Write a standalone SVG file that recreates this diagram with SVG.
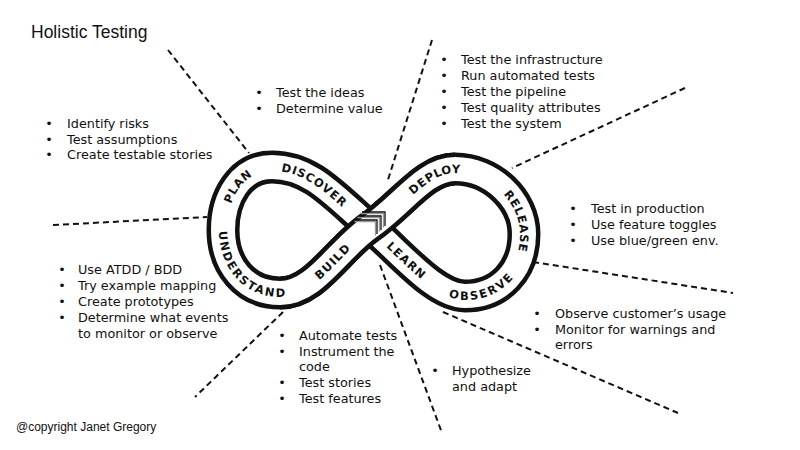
<svg xmlns="http://www.w3.org/2000/svg" width="800" height="450" viewBox="0 0 800 450">
<style>
.t{font-family:"DejaVu Sans",sans-serif;font-size:12.8px;fill:#111}
.b{font-family:"DejaVu Sans",sans-serif;font-size:12.8px;fill:#111;text-anchor:middle}
.title{font-family:"Liberation Sans",Arial,sans-serif;font-size:17.5px;fill:#111}
.copy{font-family:"Liberation Sans",Arial,sans-serif;font-size:12px;fill:#111}
.lbl{font-family:"DejaVu Sans",sans-serif;font-size:11.5px;font-weight:bold;letter-spacing:1.2px;fill:#111;dominant-baseline:central;text-anchor:middle}
.dash{stroke:#111;stroke-width:2;stroke-dasharray:6 4;fill:none}
.bandK{fill:none;stroke:#111;stroke-width:33}
.bandW{fill:none;stroke:#fff;stroke-width:24}
.chev{fill:none;stroke:#111;stroke-width:1.3}
.chevG{fill:none;stroke:#999;stroke-width:1.3}
</style>
<defs>
<path id="loopAll" d="M370,227 C403,204 425,169 455,169 C492,169 524,200 524,234 C524,270 500,296 465,296 C435,296 400,252 370,227 C332.5,194 310,167 272,167 C240,167 223,198 223,230 C223,265 245,293 280,293 C315,293 337,250 370,227"/>
<path id="loopOver" d="M280,293 C315,293 337,250 370,227 C403,204 425,169 455,169"/>
<path id="pLeftCW" d="M223,230 C223,198 240,167 272,167 C310,167 332.5,194 370,227"/>
<path id="pLeftCCW" d="M272,167 C240,167 223,198 223,230 C223,265 245,293 280,293 C315,293 337,250 370,227"/>
<path id="pRightCW" d="M370,227 C403,204 425,169 455,169 C492,169 524,200 524,234 C524,270 500,296 465,296"/>
<path id="pRightRev" d="M370,227 C400,252 435,296 465,296 C500,296 524,270 524,234"/>
</defs>
<rect width="800" height="450" fill="#fff"/>

<g id="connectors">
<line class="dash" x1="168" y1="50" x2="249" y2="153"/>
<line class="dash" x1="432" y1="40" x2="387" y2="183"/>
<line class="dash" x1="685" y1="88" x2="512" y2="168"/>
<line class="dash" x1="53" y1="225" x2="207" y2="217"/>
<line class="dash" x1="283" y1="312" x2="195" y2="397"/>
<line class="dash" x1="380" y1="265" x2="442" y2="433"/>
<line class="dash" x1="533" y1="262" x2="733" y2="293"/>
<line class="dash" x1="443" y1="312" x2="678" y2="413"/>
</g>

<g id="loop">
<use href="#loopAll" class="bandK"/>
<use href="#loopAll" class="bandW"/>
<use href="#loopOver" class="bandK"/>
<use href="#loopOver" class="bandW"/>
<g id="chevrons">
<polyline class="chevG" points="360.5,213.5 383.5,213.5 383.5,227.5"/>
<polyline class="chev" points="362,212 385,212 385,226"/>
<polyline class="chevG" points="357.5,217.5 379.5,217.5 379.5,231.5"/>
<polyline class="chev" points="359,216 381,216 381,230"/>
<polyline class="chevG" points="354.5,221.5 375.5,221.5 375.5,235.5"/>
<polyline class="chev" points="356,220 377,220 377,234"/>
</g>
<g id="stage-labels">
<text class="lbl"><textPath href="#pLeftCW" startOffset="23%">PLAN</textPath></text>
<text class="lbl"><textPath href="#pLeftCW" startOffset="66%">DISCOVER</textPath></text>
<text class="lbl"><textPath href="#pLeftCCW" startOffset="47%">UNDERSTAND</textPath></text>
<text class="lbl"><textPath href="#pLeftCCW" startOffset="83%">BUILD</textPath></text>
<text class="lbl"><textPath href="#pRightCW" startOffset="27%">DEPLOY</textPath></text>
<text class="lbl"><textPath href="#pRightCW" startOffset="64%">RELEASE</textPath></text>
<text class="lbl"><textPath href="#pRightRev" startOffset="23%">LEARN</textPath></text>
<text class="lbl"><textPath href="#pRightRev" startOffset="64%">OBSERVE</textPath></text>
</g>
</g>

<g id="title"><text class="title" x="31" y="38">Holistic Testing</text></g>

<g id="plan-notes">
<text class="b" x="49" y="128">•</text><text class="t" x="67" y="128">Identify risks</text>
<text class="b" x="49" y="143.7">•</text><text class="t" x="67" y="143.7">Test assumptions</text>
<text class="b" x="49" y="159.4">•</text><text class="t" x="67" y="159.4">Create testable stories</text>
</g>

<g id="discover-notes">
<text class="b" x="259" y="97">•</text><text class="t" x="276" y="97">Test the ideas</text>
<text class="b" x="259" y="113">•</text><text class="t" x="276" y="113">Determine value</text>
</g>

<g id="deploy-notes">
<text class="b" x="444" y="64">•</text><text class="t" x="461" y="64">Test the infrastructure</text>
<text class="b" x="444" y="80">•</text><text class="t" x="461" y="80">Run automated tests</text>
<text class="b" x="444" y="96">•</text><text class="t" x="461" y="96">Test the pipeline</text>
<text class="b" x="444" y="112">•</text><text class="t" x="461" y="112">Test quality attributes</text>
<text class="b" x="444" y="128">•</text><text class="t" x="461" y="128">Test the system</text>
</g>

<g id="release-notes">
<text class="b" x="573" y="213">•</text><text class="t" x="591" y="213">Test in production</text>
<text class="b" x="573" y="229">•</text><text class="t" x="591" y="229">Use feature toggles</text>
<text class="b" x="573" y="245">•</text><text class="t" x="591" y="245">Use blue/green env.</text>
</g>

<g id="understand-notes">
<text class="b" x="62" y="274">•</text><text class="t" x="78" y="274">Use ATDD / BDD</text>
<text class="b" x="62" y="290">•</text><text class="t" x="78" y="290">Try example mapping</text>
<text class="b" x="62" y="306">•</text><text class="t" x="78" y="306">Create prototypes</text>
<text class="b" x="62" y="322">•</text><text class="t" x="78" y="322">Determine what events</text>
<text class="t" x="78" y="338">to monitor or observe</text>
</g>

<g id="build-notes">
<text class="b" x="282" y="339.5">•</text><text class="t" x="299" y="339.5">Automate tests</text>
<text class="b" x="282" y="355.5">•</text><text class="t" x="299" y="355.5">Instrument the</text>
<text class="t" x="299" y="371">code</text>
<text class="b" x="282" y="387">•</text><text class="t" x="299" y="387">Test stories</text>
<text class="b" x="282" y="403">•</text><text class="t" x="299" y="403">Test features</text>
</g>

<g id="learn-notes">
<text class="b" x="435" y="375">•</text><text class="t" x="452" y="375">Hypothesize</text>
<text class="t" x="452" y="391">and adapt</text>
</g>

<g id="observe-notes">
<text class="b" x="537" y="317.5">•</text><text class="t" x="555" y="317.5">Observe customer’s usage</text>
<text class="b" x="537" y="333.5">•</text><text class="t" x="555" y="333.5">Monitor for warnings and</text>
<text class="t" x="555" y="349">errors</text>
</g>

<g id="copyright"><text class="copy" x="16" y="431">@copyright Janet Gregory</text></g>
</svg>
